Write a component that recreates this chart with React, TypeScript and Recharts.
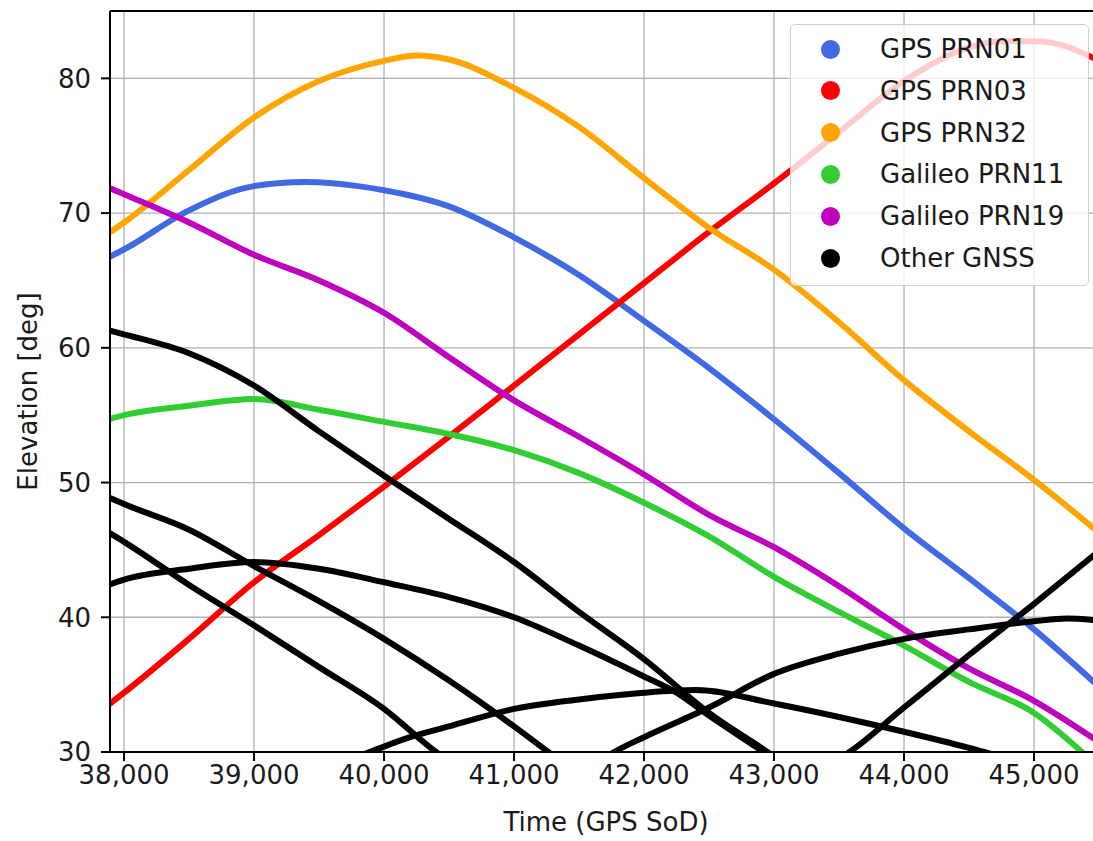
import React from 'react';
import { LineChart, Line, XAxis, YAxis, CartesianGrid, Legend, ReferenceLine } from 'recharts';

// Axis ranges and ticks
const X_MIN = 37892;
const X_MAX = 45523;
const Y_MIN = 30;
const Y_MAX = 85;
const X_TICKS = [38000, 39000, 40000, 41000, 42000, 43000, 44000, 45000];
const Y_TICKS = [30, 40, 50, 60, 70, 80];

// GPS PRN01
const prn01Sod = [37880, 38000, 38500, 39000, 39400, 39800, 40000, 40500, 41000, 41500, 42000, 42500, 43000, 43500, 44000, 44500, 45000, 45460];
const prn01Elev = [66.7, 67.3, 70.2, 72.0, 72.3, 72.0, 71.7, 70.5, 68.2, 65.4, 62.0, 58.5, 54.7, 50.7, 46.6, 42.9, 39.1, 35.2];

// GPS PRN03
const prn03Sod = [37880, 38000, 38500, 39000, 39500, 40000, 40500, 41000, 41500, 42000, 42500, 43000, 43500, 44000, 44500, 44750, 45000, 45200, 45460];
const prn03Elev = [33.5, 34.4, 38.4, 42.6, 46.1, 49.7, 53.4, 57.2, 61.0, 64.8, 68.6, 72.2, 76.0, 79.8, 82.3, 82.75, 82.75, 82.5, 81.5];

// GPS PRN32
const prn32Sod = [37880, 38000, 38500, 39000, 39500, 40000, 40250, 40500, 41000, 41500, 42000, 42500, 43000, 43500, 44000, 44500, 45000, 45460];
const prn32Elev = [68.5, 69.3, 73.2, 77.1, 79.8, 81.3, 81.7, 81.4, 79.3, 76.4, 72.6, 68.9, 65.8, 61.9, 57.6, 53.8, 50.2, 46.6];

// Galileo PRN11
const gal11Sod = [37880, 38000, 38500, 39000, 39500, 40000, 40500, 41000, 41500, 42000, 42500, 43000, 43500, 44000, 44500, 45000, 45460];
const gal11Elev = [54.7, 55.0, 55.7, 56.2, 55.4, 54.5, 53.6, 52.4, 50.7, 48.5, 46.0, 43.0, 40.4, 37.9, 35.2, 32.9, 29.2];

// Galileo PRN19
const gal19Sod = [37880, 38000, 38500, 39000, 39500, 40000, 40500, 41000, 41500, 42000, 42500, 43000, 43500, 44000, 44500, 45000, 45460];
const gal19Elev = [71.9, 71.4, 69.3, 66.9, 65.0, 62.6, 59.3, 56.1, 53.4, 50.6, 47.6, 45.2, 42.3, 39.1, 36.2, 33.8, 31.0];

// Other GNSS satellites
const otherASod = [37880, 38000, 38500, 39000, 39500, 40000, 40500, 41000, 41500, 42000, 42500, 42950, 43100];
const otherAElev = [61.3, 61.0, 59.6, 57.2, 53.8, 50.5, 47.3, 44.1, 40.4, 36.9, 32.9, 30.0, 29.0];

const otherBSod = [37880, 38000, 38500, 39000, 39500, 40000, 40500, 41000, 41500, 42000, 42250, 42500, 42950, 43100];
const otherBElev = [42.4, 42.8, 43.6, 44.1, 43.6, 42.6, 41.5, 40.0, 37.9, 35.6, 34.4, 32.7, 29.8, 28.8];

const otherCSod = [37880, 38000, 38500, 39000, 39500, 40000, 40500, 41000, 41250, 41400];
const otherCElev = [48.9, 48.4, 46.5, 43.8, 41.2, 38.4, 35.3, 31.9, 30.1, 29.0];

const otherDSod = [37880, 38000, 38500, 39000, 39500, 40000, 40400, 40550];
const otherDElev = [46.3, 45.6, 42.4, 39.4, 36.3, 33.2, 30.0, 29.0];

const otherESod = [39750, 39890, 40200, 40500, 41000, 41500, 42000, 42400, 43000, 43500, 44000, 44500, 44800];
const otherEElev = [29.5, 30.0, 31.1, 31.9, 33.2, 33.9, 34.4, 34.6, 33.6, 32.6, 31.5, 30.3, 29.5];

const otherFSod = [41650, 41770, 42000, 42500, 43000, 43500, 44000, 44500, 45000, 45250, 45460];
const otherFElev = [29.3, 30.0, 31.1, 33.3, 35.8, 37.3, 38.4, 39.1, 39.7, 39.9, 39.8];

const otherGSod = [43500, 43580, 44000, 44500, 45000, 45460];
const otherGElev = [29.5, 30.0, 33.3, 37.2, 41.0, 44.6];

const zip = (sod: number[], elev: number[]) => sod.map((t, i) => ({ t, e: elev[i] }));

const FONT = '"DejaVu Sans", "Liberation Sans", sans-serif';
const TEXT = '#1a1a1a';

type Series = { name: string; color: string; data: { t: number; e: number }[]; legend: boolean };

const colored: Series[] = [
  { name: 'GPS PRN01', color: '#4169E1', data: zip(prn01Sod, prn01Elev), legend: true },
  { name: 'GPS PRN03', color: '#FF0000', data: zip(prn03Sod, prn03Elev), legend: true },
  { name: 'GPS PRN32', color: '#FFA500', data: zip(prn32Sod, prn32Elev), legend: true },
  { name: 'Galileo PRN11', color: '#32CD32', data: zip(gal11Sod, gal11Elev), legend: true },
  { name: 'Galileo PRN19', color: '#BF00BF', data: zip(gal19Sod, gal19Elev), legend: true },
];

const others: Series[] = [
  [otherASod, otherAElev],
  [otherBSod, otherBElev],
  [otherCSod, otherCElev],
  [otherDSod, otherDElev],
  [otherESod, otherEElev],
  [otherFSod, otherFElev],
  [otherGSod, otherGElev],
].map(([s, e], i) => ({ name: 'Other GNSS', color: '#000000', data: zip(s, e), legend: i === 0 }));

const allSeries = [...colored, ...others];

const fmt = (v: number) => v.toLocaleString('en-US');

const XTitle = (props: any) => {
  const vb = props.viewBox || {};
  return (
    <text x={vb.x + vb.width / 2} y={vb.y + 79} textAnchor="middle" fontSize={26} fontFamily={FONT} fill={TEXT}>
      Time (GPS SoD)
    </text>
  );
};

const YTitle = (props: any) => {
  const vb = props.viewBox || {};
  const cx = vb.x + 37;
  const cy = vb.y + vb.height / 2 + 10;
  return (
    <text x={cx} y={cy} transform={`rotate(-90, ${cx}, ${cy})`} textAnchor="middle" fontSize={26} fontFamily={FONT} fill={TEXT}>
      Elevation [deg]
    </text>
  );
};

const ROW0 = 24;
const ROW_STEP = 41.8;

const LegendBox = (props: any) => {
  const items = (props.payload || []).filter((p: any) => p.type !== 'none');
  return (
    <div style={{ position: 'relative', width: '100%', height: '100%' }}>
      {items.map((it: any, i: number) => (
        <div key={i} style={{ position: 'absolute', left: 0, right: 0, top: ROW0 + i * ROW_STEP - 16, height: 32 }}>
          <span
            style={{
              position: 'absolute',
              left: 30,
              top: 6.5,
              width: 19,
              height: 19,
              borderRadius: '50%',
              background: it.color,
            }}
          />
          <span
            style={{
              position: 'absolute',
              left: 89,
              top: 0,
              lineHeight: '32px',
              fontSize: 26,
              fontFamily: FONT,
              color: TEXT,
              whiteSpace: 'nowrap',
            }}
          >
            {it.value}
          </span>
        </div>
      ))}
    </div>
  );
};

export default function App() {
  return (
    <div style={{ position: 'fixed', left: 0, top: 0, width: 1093, height: 841, overflow: 'hidden', background: '#ffffff' }}>
      <LineChart width={1102} height={841} margin={{ top: 11, right: 0, bottom: 0, left: 0 }}>
        <CartesianGrid stroke="#b0b0b0" strokeWidth={1.3} />
        <XAxis
          dataKey="t"
          type="number"
          domain={[X_MIN, X_MAX]}
          ticks={X_TICKS}
          allowDataOverflow
          tickFormatter={fmt}
          height={89}
          tickSize={9}
          tickMargin={4.5}
          tick={{ fill: TEXT, fontSize: 26, fontFamily: FONT }}
          tickLine={{ stroke: '#000', strokeWidth: 2 }}
          axisLine={{ stroke: '#000', strokeWidth: 2 }}
          label={<XTitle />}
        />
        <YAxis
          dataKey="e"
          type="number"
          domain={[Y_MIN, Y_MAX]}
          ticks={Y_TICKS}
          allowDataOverflow
          width={110}
          tickSize={9}
          tickMargin={10}
          tick={{ fill: TEXT, fontSize: 26, fontFamily: FONT }}
          tickLine={{ stroke: '#000', strokeWidth: 2 }}
          axisLine={{ stroke: '#000', strokeWidth: 2 }}
          label={<YTitle />}
        />
        <ReferenceLine y={Y_MAX} stroke="#000" strokeWidth={2} />
        {allSeries.map((s, i) => (
          <Line
            key={i}
            data={s.data}
            dataKey="e"
            name={s.name}
            type="monotone"
            stroke={s.color}
            strokeWidth={6}
            strokeLinecap="round"
            dot={false}
            activeDot={false}
            legendType={s.legend ? 'circle' : 'none'}
            isAnimationActive={false}
          />
        ))}
        <Legend
          layout="horizontal"
          verticalAlign="middle"
          align="center"
          content={<LegendBox />}
          wrapperStyle={{
            left: 790,
            top: 24,
            width: 299,
            height: 262,
            boxSizing: 'border-box',
            border: '1.3px solid #d0d0d0',
            borderRadius: 5,
            background: 'rgba(255,255,255,0.8)',
          }}
        />
      </LineChart>
    </div>
  );
}
